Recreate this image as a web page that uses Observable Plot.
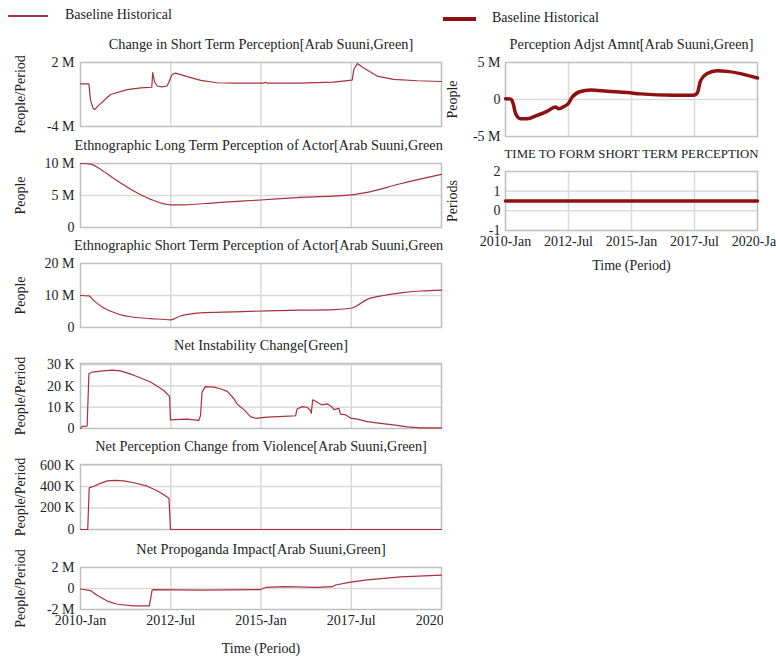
<!DOCTYPE html>
<html><head><meta charset="utf-8">
<script src="https://cdn.jsdelivr.net/npm/d3@7"></script>
<script src="https://cdn.jsdelivr.net/npm/@observablehq/plot@0.6"></script>
<style>
body{margin:0;background:#fff;}
#root{position:relative;width:776px;height:658px;overflow:hidden;font-family:"Liberation Serif","Times New Roman","DejaVu Serif",serif;color:#222;background:#fff;}
.pn{position:absolute;}
.leg{position:absolute;font-size:14px;white-space:nowrap;line-height:1;}
.legline{position:absolute;}
</style></head><body><div id="root"></div>
<script>
// ---- shared axis data ----
const xTickValues = [0, 30, 60, 90, 120]; // months since 2010-Jan
const xTickLabels = ["2010-Jan", "2012-Jul", "2015-Jan", "2017-Jul", "2020-Jan"];
const xGridValues = [30, 60, 90];
const seriesName = "Baseline Historical";

// ---- Change in Short Term Perception (M people/period) ----
const p1Month = [0,2.8,3.3,4.2,4.8,6.1,10,15.5,20,23.7,24,24.6,25.5,27,28.8,30.5,31.6,35.5,40,45.4,51,61,61.5,62,73,84,90.3,90.9,92,94,98.6,104,112,120];
const p1Value = [0,0,-1.5,-2.3,-2.4,-2.0,-1.0,-0.55,-0.38,-0.32,1.05,0.2,-0.2,-0.29,-0.2,0.9,1.0,0.67,0.32,0.1,0.06,0.06,0.16,0.06,0.06,0.16,0.35,1.37,1.9,1.5,0.73,0.42,0.29,0.22];
const p1Ticks = [-4, 2], p1Labels = ["-4 M", "2 M"];

// ---- Ethnographic Long Term Perception (M people) ----
const p2Month = [0,3.3,6.6,12.2,17.7,23.3,29.9,34.3,45.4,59.8,73,89.8,95.3,106,120];
const p2Value = [10,9.9,9.1,7.3,5.7,4.4,3.54,3.54,3.9,4.3,4.7,5.1,5.5,6.8,8.3];
const p2Ticks = [0, 5, 10], p2Labels = ["0", "5 M", "10 M"];

// ---- Ethnographic Short Term Perception (M people) ----
const p3Month = [0,2.8,4.4,7.8,12.2,17.7,23.3,29.9,33.2,39.9,51,62,73,84.2,90.3,95.3,100.8,106.4,113,120];
const p3Value = [10,9.9,8.4,6.1,4.3,3.2,2.8,2.4,3.6,4.6,4.9,5.2,5.4,5.6,6.1,8.8,10.0,10.8,11.4,11.7];
const p3Ticks = [0, 10, 20], p3Labels = ["0", "10 M", "20 M"];

// ---- Net Instability Change (K people/period) ----
const p4Month = [0,0.55,2.2,2.8,3.9,6.6,10.5,13.3,17.7,23.3,27.7,29.6,29.9,33.2,35.5,39.3,39.9,40.4,41.5,44.3,46.5,48.8,51,52,54.3,56.5,58.2,62,67.6,71.5,72,73.7,75.3,76.5,76.7,77.2,78.7,80.3,82,83.7,84.2,85.9,86.4,88,89.8,92,95.3,99.7,104,108.6,113,120];
const p4Value = [0,1.0,1.1,25.9,26.5,27,27.5,27.1,25.1,21.9,17.9,15.1,4.1,4.3,4.4,3.8,6.0,17.1,19.7,19.5,18.7,17.5,14.0,11.6,8.9,5.6,4.8,5.4,5.7,6.0,9.2,10.3,10.0,8.4,7.1,13.5,12.4,11.1,11.6,10.0,8.9,9.5,6.8,6.5,4.9,4.4,3.2,2.4,1.7,0.8,0.3,0.3];
const p4Ticks = [0, 10, 20, 30], p4Labels = ["0", "10 K", "20 K", "30 K"];

// ---- Net Perception Change from Violence (K people/period) ----
const p5Month = [0,2.4,2.9,4.4,6.6,8.9,11.6,14.4,17.7,22.2,25.5,27.7,29.4,29.9,120];
const p5Value = [0,0,387,403,429,452,458,452,435,403,361,323,290,0,0];
const p5Ticks = [0, 200, 400, 600], p5Labels = ["0", "200 K", "400 K", "600 K"];

// ---- Net Propoganda Impact (M people/period) ----
const p6Month = [0,3.3,5.5,8.9,12.2,17.7,22.9,23.8,24.4,40,59.8,61.5,67.6,78.7,83.7,84.8,89.8,95.3,106.4,120];
const p6Value = [-0.05,-0.2,-0.65,-1.2,-1.5,-1.65,-1.65,-0.15,-0.1,-0.15,-0.1,0.1,0.17,0.1,0.17,0.33,0.6,0.83,1.1,1.27];
const p6Ticks = [-2, 0, 2], p6Labels = ["-2 M", "0", "2 M"];

// ---- Perception Adjst Amnt (M people) ----
const pAMonth = [0,2.7,3.7,4.8,7.1,10.3,15,19.8,23.8,25.4,27.8,29.8,31.7,35.7,40.5,48.4,57.9,64.3,80.2,89.7,91.3,92.9,96,100.8,105.6,111.9,120];
const pAValue = [0.1,0.05,-0.6,-1.9,-2.6,-2.6,-2.15,-1.6,-1.0,-1.25,-0.95,-0.6,0.3,1.08,1.3,1.12,0.94,0.76,0.58,0.58,0.85,2.55,3.5,3.9,3.8,3.5,2.9];
const pATicks = [-5, 0, 5], pALabels = ["-5 M", "0", "5 M"];

// ---- TIME TO FORM SHORT TERM PERCEPTION (periods) ----
const pBMonth = [0, 120];
const pBValue = [0.5, 0.5];
const pBTicks = [-1, 0, 1, 2], pBLabels = ["-1", "0", "1", "2"];

// ---- styling ----
const FONT = '"Liberation Serif","Times New Roman","DejaVu Serif",serif';
const FS = 14;
const TXT = "#222";
const FRAME = "#bfbfbf";
const GRID = "#dadada";
const LEFT_COLOR = "#a8323a";
const RIGHT_COLOR = "#8e1010";

const root = document.getElementById("root");

function panel(o) {
  const data = o.months.map((m, i) => ({m, v: o.values[i]}));
  const mt = o.mt ?? 50, mb = o.mb ?? 30;
  const height = (o.frameBottom - o.frameTop) + mt + mb;
  const yGrid = o.ticks.filter(t => t > o.domain[0] && t < o.domain[1]);
  const tx = {fontSize: FS, fontFamily: FONT, fill: TXT, lineAnchor: "middle", textAnchor: "middle"};
  const marks = [
    Plot.ruleY(yGrid, {stroke: GRID, strokeWidth: 1.5}),
    Plot.ruleX(xGridValues, {stroke: GRID, strokeWidth: 1.5}),
    Plot.frame({stroke: FRAME, strokeWidth: 1.5}),
    Plot.line(data, {x: "m", y: "v", stroke: o.color, strokeWidth: o.sw, curve: o.curve || "linear"}),
    Plot.text([o.title], {...tx, fontSize: o.titleSize ?? 14.3, frameAnchor: "top", dy: -o.titleOffset, text: d => d}),
    Plot.text([o.ylabel], {...tx, frameAnchor: "left", dx: o.ylabelDx, rotate: -90, text: d => d}),
    Plot.text(o.ticks, {...tx, y: d => d, frameAnchor: "left", textAnchor: "end", dx: o.tickDx, text: (d, i) => o.labels[i]})
  ];
  if (o.showX) {
    marks.push(Plot.text(xTickValues, {...tx, x: d => d, frameAnchor: "bottom", dy: 11, text: (d, i) => xTickLabels[i]}));
    marks.push(Plot.text(["Time (Period)"], {...tx, frameAnchor: "bottom", dy: o.timeDy, text: d => d}));
  }
  const svg = Plot.plot({
    width: o.width, height,
    marginLeft: o.ml, marginRight: o.mr, marginTop: mt, marginBottom: mb,
    x: {domain: [0, 120], axis: null},
    y: {domain: o.domain, axis: null},
    style: {fontFamily: FONT, background: "transparent", overflow: "hidden"},
    marks
  });
  svg.classList.add("pn");
  svg.style.position = "absolute";
  svg.style.left = o.left + "px";
  svg.style.top = (o.frameTop - mt) + "px";
  svg.style.maxWidth = "none";
  root.appendChild(svg);
}

const L = {left: 0, width: 443, ml: 80, mr: 2, ylabelDx: -60, tickDx: -6, color: LEFT_COLOR, sw: 1.2, titleOffset: 18};
const R = {left: 443, width: 333, ml: 62, mr: 19, ylabelDx: -53, tickDx: -5, color: RIGHT_COLOR, sw: 3.5, titleOffset: 18};

panel({...L, frameTop: 62, frameBottom: 126, title: "Change in Short Term Perception[Arab Suuni,Green]", ylabel: "People/Period", domain: [-4, 2], ticks: p1Ticks, labels: p1Labels, months: p1Month, values: p1Value});
panel({...L, frameTop: 163, frameBottom: 227, title: "Ethnographic Long Term Perception of Actor[Arab Suuni,Green]", ylabel: "People", domain: [0, 10], ticks: p2Ticks, labels: p2Labels, months: p2Month, values: p2Value, curve: "monotone-x"});
panel({...L, frameTop: 263, frameBottom: 327, title: "Ethnographic Short Term Perception of Actor[Arab Suuni,Green]", ylabel: "People", domain: [0, 20], ticks: p3Ticks, labels: p3Labels, months: p3Month, values: p3Value, curve: "monotone-x"});
panel({...L, frameTop: 363, frameBottom: 428, title: "Net Instability Change[Green]", ylabel: "People/Period", domain: [0, 30.6], ticks: p4Ticks, labels: p4Labels, months: p4Month, values: p4Value});
panel({...L, frameTop: 464, frameBottom: 529, title: "Net Perception Change from Violence[Arab Suuni,Green]", ylabel: "People/Period", domain: [0, 605], ticks: p5Ticks, labels: p5Labels, months: p5Month, values: p5Value});
panel({...L, frameTop: 567, frameBottom: 609, mb: 49, showX: true, timeDy: 39, title: "Net Propoganda Impact[Arab Suuni,Green]", ylabel: "People/Period", domain: [-2, 2], ticks: p6Ticks, labels: p6Labels, months: p6Month, values: p6Value});

panel({...R, frameTop: 62, frameBottom: 136, title: "Perception Adjst Amnt[Arab Suuni,Green]", ylabel: "People", domain: [-5, 5], ticks: pATicks, labels: pALabels, months: pAMonth, values: pAValue, curve: "monotone-x"});
panel({...R, frameTop: 171, frameBottom: 230, mb: 48, showX: true, timeDy: 35, titleSize: 12.8, title: "TIME TO FORM SHORT TERM PERCEPTION", ylabel: "Periods", domain: [-1, 2], ticks: pBTicks, labels: pBLabels, months: pBMonth, values: pBValue});

// ---- legends ----
function legend(x, y, len, thick, color, textX) {
  const ln = document.createElement("div");
  ln.className = "legline";
  ln.style.left = x + "px"; ln.style.top = (y - thick / 2) + "px";
  ln.style.width = len + "px"; ln.style.height = thick + "px";
  ln.style.background = color;
  root.appendChild(ln);
  const t = document.createElement("div");
  t.className = "leg";
  t.textContent = seriesName;
  t.style.left = textX + "px"; t.style.top = (y - 8) + "px";
  root.appendChild(t);
}
legend(8, 16, 40, 1.3, LEFT_COLOR, 65);
legend(443, 19, 33, 4, RIGHT_COLOR, 492);
</script>
</body></html>
